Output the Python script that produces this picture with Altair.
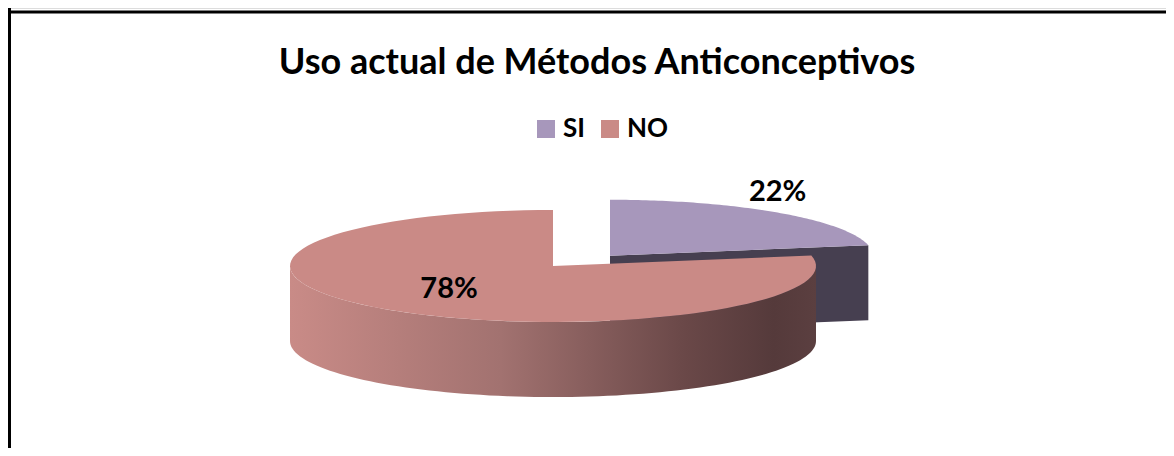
import altair as alt
import pandas as pd

# ---- data ----
categories = ["SI", "NO"]
percentages = [22, 78]
top_colors = ["#A797BB", "#CA8A86"]
title_text = "Uso actual de Métodos Anticonceptivos"

# ---- layout / style constants ----
W, H = 1158, 440
CX, CY, RX, RY = 545, 258, 263, 56   # ellipse centre / semi-axes in view px
DEPTH = 1.34                          # pie thickness, in y-scale units
EXPLODE = 0.34
N = 90
FONT = "Lato"

df = pd.DataFrame({"cat": categories, "pct": percentages})

xs = alt.Scale(domain=[-1, 1], range=[CX - RX, CX + RX])
ys = alt.Scale(domain=[-1, 1], range=[CY + RY, CY - RY])

base = (
    alt.Chart(df)
    .transform_window(cum="sum(pct)", frame=[None, 0])
    .transform_calculate(
        a0="2*PI*(datum.cum - datum.pct)/100",
        a1="2*PI*datum.cum/100",
    )
    .transform_calculate(mid="(datum.a0 + datum.a1)/2")
    .transform_calculate(
        ex=f"datum.cat == 'SI' ? {EXPLODE}*sin(datum.mid) : 0",
        ey=f"datum.cat == 'SI' ? {EXPLODE}*cos(datum.mid)*0.7 : 0",
    )
)

X = lambda: alt.X("px:Q", scale=xs, axis=None)
Y = lambda: alt.Y("py:Q", scale=ys, axis=None)

# cut face of the exploded slice
cut = (
    base.transform_filter("datum.cat == 'SI'")
    .transform_calculate(ks="sequence(0, 4)")
    .transform_flatten(["ks"], as_=["k"])
    .transform_calculate(
        rim="(datum.k == 1 || datum.k == 2) ? 1 : 0",
        low="datum.k >= 2 ? 1 : 0",
    )
    .transform_calculate(
        px="datum.ex + datum.rim*sin(datum.a1)",
        py=f"datum.ey + datum.rim*cos(datum.a1) - datum.low*{DEPTH}",
    )
    .mark_line(filled=True, fill="#463F50", strokeWidth=0)
    .encode(x=X(), y=Y(), order="k:Q", detail="cat:N")
)

# visible outer rim (front half)
side_grad = alt.LinearGradient(
    gradient="linear",
    stops=[
        alt.GradientStop(color="#C98B87", offset=0),
        alt.GradientStop(color="#A27270", offset=0.4),
        alt.GradientStop(color="#6A4848", offset=0.75),
        alt.GradientStop(color="#553A3B", offset=0.92),
        alt.GradientStop(color="#5B3F40", offset=1),
    ],
    x1=0, x2=1, y1=0, y2=0,
)
side = (
    base.transform_calculate(s0="max(datum.a0, PI/2)", s1="min(datum.a1, 3*PI/2)")
    .transform_filter("datum.s1 > datum.s0")
    .transform_calculate(ks=f"sequence(0, {2 * N + 2})")
    .transform_flatten(["ks"], as_=["k"])
    .transform_calculate(
        j=f"datum.k <= {N} ? datum.k : {2 * N + 1} - datum.k",
        low=f"datum.k > {N} ? 1 : 0",
    )
    .transform_calculate(ang=f"datum.s0 + (datum.s1 - datum.s0)*datum.j/{N}")
    .transform_calculate(
        px="datum.ex + sin(datum.ang)",
        py=f"datum.ey + cos(datum.ang) - datum.low*{DEPTH}",
    )
    .mark_line(filled=True, fill=side_grad, strokeWidth=0)
    .encode(x=X(), y=Y(), order="k:Q", detail="cat:N")
)

# top faces
tops = (
    base.transform_calculate(ks=f"sequence(0, {N + 3})")
    .transform_flatten(["ks"], as_=["k"])
    .transform_calculate(
        ang=f"datum.a0 + (datum.a1 - datum.a0)*clamp((datum.k - 1)/{N}, 0, 1)",
        edge=f"(datum.k == 0 || datum.k == {N + 2}) ? 0 : 1",
    )
    .transform_calculate(
        px="datum.ex + datum.edge*sin(datum.ang)",
        py="datum.ey + datum.edge*cos(datum.ang)",
    )
    .mark_line(filled=True, strokeWidth=0)
    .encode(
        x=X(),
        y=Y(),
        order="k:Q",
        color=alt.Color(
            "cat:N",
            scale=alt.Scale(domain=categories, range=top_colors),
            legend=alt.Legend(
                orient="none",
                legendX=525,
                legendY=108,
                direction="horizontal",
                title=None,
                symbolType="square",
                symbolSize=324,
                symbolStrokeWidth=0,
                labelFont=FONT,
                labelFontSize=26,
                labelFontWeight="bold",
                labelColor="black",
                columnPadding=12,
                labelOffset=4,
                padding=0,
            ),
        ),
    )
)

lab = base.transform_calculate(
    r="datum.cat == 'SI' ? 1.0 : 0.62", txt="datum.pct + '%'"
).transform_calculate(
    px="datum.ex + datum.r*sin(datum.mid)",
    py="datum.ey + datum.r*cos(datum.mid)",
)
lab_out = lab.transform_filter("datum.cat == 'SI'").mark_text(
    font=FONT, fontSize=29, fontWeight="bold", color="black", baseline="bottom", dy=-6
).encode(x=X(), y=Y(), text="txt:N")
lab_in = lab.transform_filter("datum.cat != 'SI'").mark_text(
    font=FONT, fontSize=29, fontWeight="bold", color="black", baseline="middle", dy=-4
).encode(x=X(), y=Y(), text="txt:N")

one = pd.DataFrame({"a": [0]})
top_rule = alt.Chart(one).mark_rule(color="black", strokeWidth=3).encode(
    x=alt.value(0), x2=alt.value(W), y=alt.value(4)
)
left_rule = alt.Chart(one).mark_rule(color="black", strokeWidth=3).encode(
    x=alt.value(1.5), y=alt.value(0), y2=alt.value(H)
)

chart = (
    alt.layer(top_rule, left_rule, cut, side, tops, lab_out, lab_in)
    .properties(
        width=W,
        height=H,
        autosize=alt.AutoSizeParams(type="none"),
        padding=0,
        title=alt.Title(
            title_text,
            font=FONT,
            fontSize=36,
            fontWeight="bold",
            color="black",
            anchor="middle",
            frame="group",
            offset=0,
            baseline="alphabetic",
            dx=10,
            dy=103,
        ),
    )
    .configure_view(stroke=None)
    .configure(background="white")
)

chart.save("out.html", embed_options={"renderer": "svg", "actions": False})
